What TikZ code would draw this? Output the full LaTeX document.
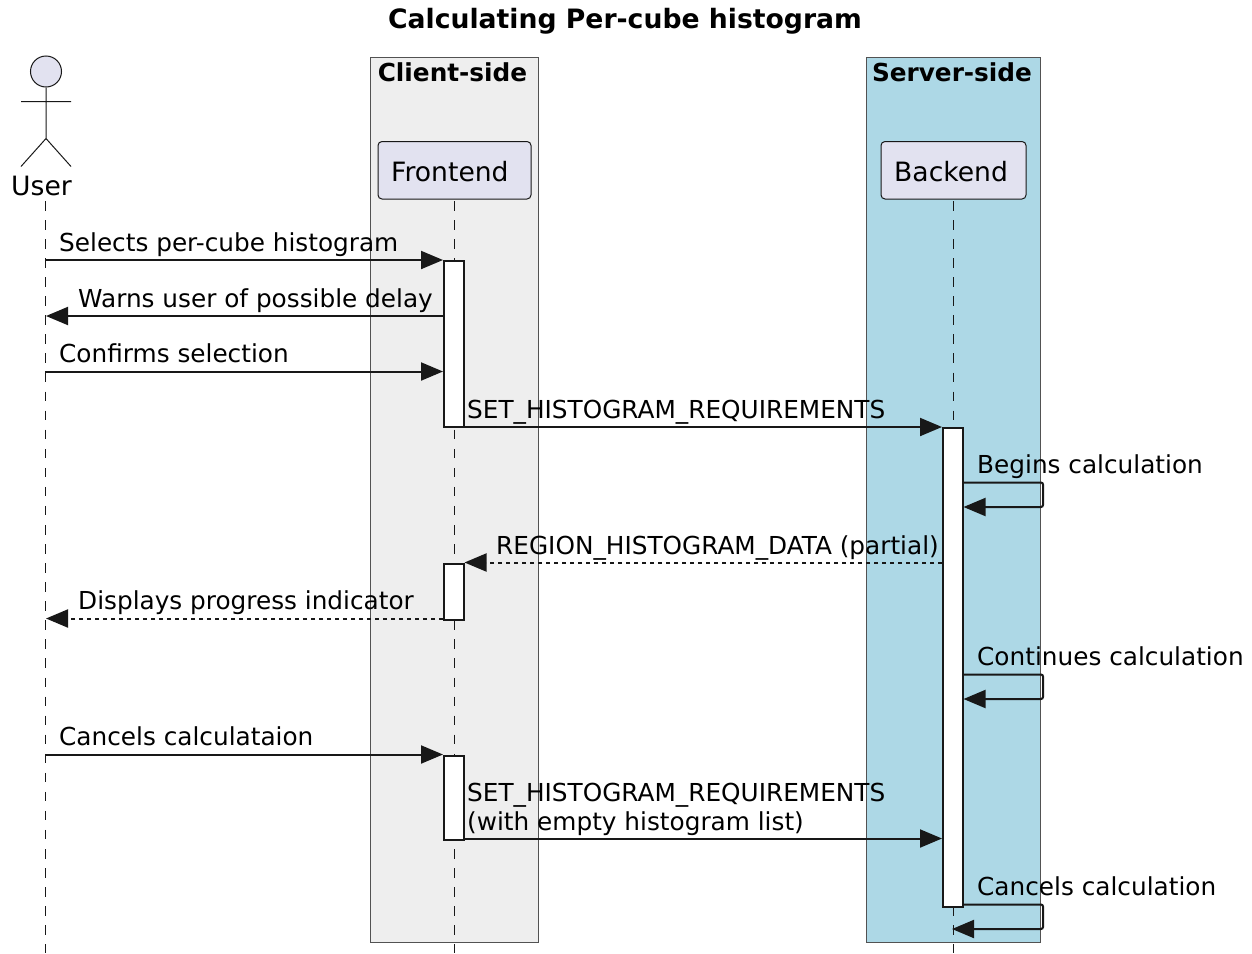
\documentclass[tikz,border=0pt]{standalone}
\usepackage{fontspec}
\setmainfont{DejaVu Sans}
\usetikzlibrary{arrows.meta}
\definecolor{umlink}{HTML}{181818}
\definecolor{umlfill}{HTML}{E2E2F0}
\definecolor{clientfill}{HTML}{EEEEEE}
\definecolor{serverfill}{HTML}{ADD8E6}
\tikzset{
  titletext/.style={inner sep=0pt,anchor=base,yshift=-0.6pt,font=\fontsize{26.65}{32}\selectfont\bfseries},
  sidetext/.style={inner sep=0pt,anchor=base,yshift=-0.6pt,font=\fontsize{24.75}{30}\selectfont\bfseries},
  msgtext/.style={inner sep=0pt,anchor=base west,yshift=-0.6pt,font=\fontsize{24.75}{29}\selectfont},
  parttext/.style={inner sep=0pt,anchor=base west,yshift=-0.6pt,font=\fontsize{26.6}{32}\selectfont},
  sidebox/.style={draw=umlink!75,line width=1pt,inner sep=0pt,anchor=north west},
  partbox/.style={draw=umlink,fill=umlfill,line width=1pt,rounded corners=4pt,inner sep=0pt,anchor=north west},
  actbar/.style={draw=umlink,fill=white,line width=2pt,inner sep=0pt,anchor=north,minimum width=19.5pt},
  lifeline/.style={draw=umlink,line width=1pt,dash pattern=on 9.5pt off 9.56pt},
  msg/.style={draw=umlink,line width=2pt,-{Triangle[length=22pt,width=18pt,color=umlink]}},
  reply/.style={msg,dash pattern=on 4pt off 4pt},
  stickman/.style={draw=umlink,line width=1pt}
}
\begin{document}
\begin{tikzpicture}[x=1pt,y=-1pt]
  \useasboundingbox (0,0.5) rectangle (1252,953.5);
  % boxes
  \node (client) [sidebox,fill=clientfill,minimum width=168pt,minimum height=885pt] at (370,57.5) {};
  \node (server) [sidebox,fill=serverfill,minimum width=174pt,minimum height=885pt] at (866,57.5) {};
  \node (title) [titletext] at (625,28) {Calculating Per-cube histogram};
  \node (clientlabel) [sidetext] at (452.5,81) {Client-side};
  \node (serverlabel) [sidetext] at (952,81) {Server-side};
  % lifelines
  \coordinate (usertop) at (45,201.5);
  \coordinate (userend) at (45,953.5);
  \coordinate (fronttop) at (454,201.5);
  \coordinate (frontend) at (454,953.5);
  \coordinate (backtop) at (953,201.5);
  \coordinate (backend) at (953,953.5);
  \path[lifeline] (usertop) -- (userend);
  \path[lifeline] (fronttop) -- (frontend);
  \path[lifeline] (backtop) -- (backend);
  % participants
  \node (frontbox) [partbox,minimum width=153pt,minimum height=57.5pt] at (377.5,141.5) {};
  \node (backbox) [partbox,minimum width=145pt,minimum height=57.5pt] at (880.5,141.5) {};
  \node (frontname) [parttext] at (391,181) {Frontend};
  \node (backname) [parttext] at (894,181) {Backend};
  % actor
  \node (head) [circle,draw=umlink,fill=umlfill,line width=1pt,minimum size=31pt,inner sep=0pt] at (46,72) {};
  \coordinate (hip) at (46,139);
  \coordinate (armL) at (21,102);
  \coordinate (armR) at (71,102);
  \coordinate (legL) at (21,167);
  \coordinate (legR) at (71,167);
  \path[stickman] (head) -- (hip) (armL) -- (armR) (legL) -- (hip) -- (legR);
  \node (username) [parttext] at (11,195) {User};
  % activations
  \node (barA) [actbar,minimum height=166pt] at (454.2,260.5) {};
  \node (barB) [actbar,minimum height=56pt] at (454.2,563) {};
  \node (barC) [actbar,minimum height=84pt] at (454.2,755) {};
  \node (barD) [actbar,minimum height=479pt] at (953.2,427.5) {};
  % message ends
  \coordinate (u1) at (45,260.5);
  \coordinate (f1) at (443,260.5);
  \coordinate (u2) at (46,316.5);
  \coordinate (f2) at (443,316.5);
  \coordinate (u3) at (45,372);
  \coordinate (f3) at (443,372);
  \coordinate (f4) at (464,427.5);
  \coordinate (b4) at (942,427.5);
  \coordinate (b5) at (963,483);
  \coordinate (s5) at (1043,483);
  \coordinate (t5) at (1043,507.5);
  \coordinate (c5) at (963.5,507.5);
  \coordinate (b6) at (942,563);
  \coordinate (f6) at (464.5,563);
  \coordinate (f7) at (443,619);
  \coordinate (u7) at (46,619);
  \coordinate (b8) at (963,675);
  \coordinate (s8) at (1043,675);
  \coordinate (t8) at (1043,699.5);
  \coordinate (c8) at (963.5,699.5);
  \coordinate (u9) at (45,755);
  \coordinate (f9) at (443,755);
  \coordinate (f10) at (464,839);
  \coordinate (b10) at (942,839);
  \coordinate (b11) at (963,905);
  \coordinate (s11) at (1043,905);
  \coordinate (t11) at (1043,929.5);
  \coordinate (c11) at (952,929.5);
  \path[msg] (u1) -- (f1);
  \path[msg] (f2) -- (u2);
  \path[msg] (u3) -- (f3);
  \path[msg] (f4) -- (b4);
  \path[msg,rounded corners=2pt] (b5) -- (s5) -- (t5) -- (c5);
  \path[reply] (b6) -- (f6);
  \path[reply] (f7) -- (u7);
  \path[msg,rounded corners=2pt] (b8) -- (s8) -- (t8) -- (c8);
  \path[msg] (u9) -- (f9);
  \path[msg] (f10) -- (b10);
  \path[msg,rounded corners=2pt] (b11) -- (s11) -- (t11) -- (c11);
  % labels
  \node (m1) [msgtext] at (59,251) {Selects per-cube histogram};
  \node (m2) [msgtext] at (78,307) {Warns user of possible delay};
  \node (m3) [msgtext] at (59,362) {Confirms selection};
  \node (m4) [msgtext] at (467,418) {SET\_HISTOGRAM\_REQUIREMENTS};
  \node (m5) [msgtext] at (977,473) {Begins calculation};
  \node (m6) [msgtext] at (496,554) {REGION\_HISTOGRAM\_DATA (partial)};
  \node (m7) [msgtext] at (78,609) {Displays progress indicator};
  \node (m8) [msgtext] at (977,665) {Continues calculation};
  \node (m9) [msgtext] at (59,745) {Cancels calculataion};
  \node (m10) [msgtext] at (467,801) {SET\_HISTOGRAM\_REQUIREMENTS};
  \node (m11) [msgtext] at (467,830) {(with empty histogram list)};
  \node (m12) [msgtext] at (977,895) {Cancels calculation};
\end{tikzpicture}
\end{document}
